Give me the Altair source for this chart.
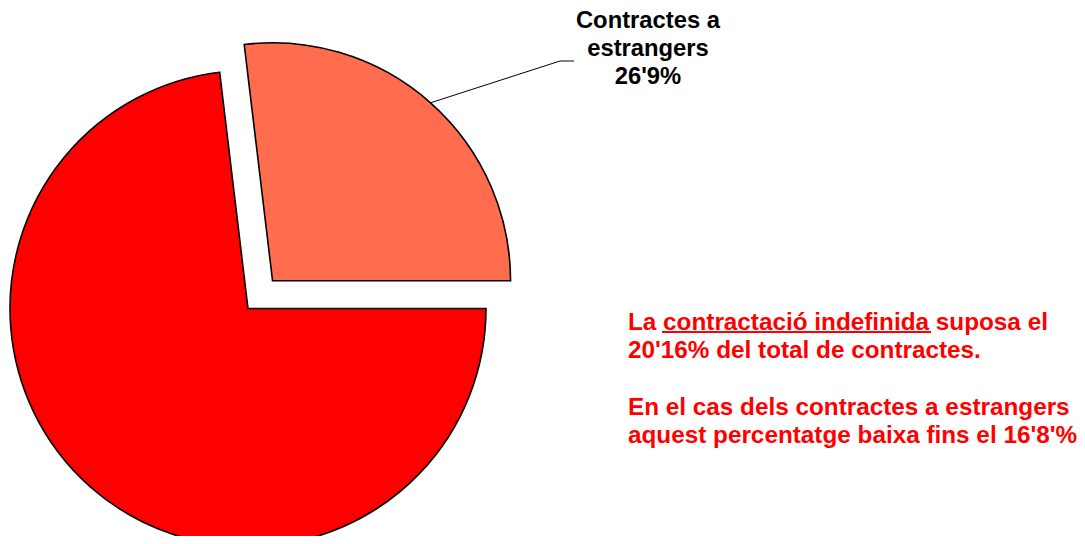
import math
import altair as alt
import pandas as pd

# ---- data ----
categories = ["Contractes a estrangers", "Resta de contractes"]
shares = [26.9, 73.1]
slice_colors = ["#FF6C4E", "#FF0000"]
label_lines = ["Contractes a", "estrangers", "26'9%"]
note_block_1 = ["La contractació indefinida suposa el", "20'16% del total de contractes."]
note_block_2 = ["En el cas dels contractes a estrangers", "aquest percentatge baixa fins el 16'8'%"]

# ---- layout / style ----
W, H = 1069, 528
CX, CY = 240, 300.5
R = 238
EXPLODE = [37, 0]
FONT = "Liberation Sans"
NOTE_SIZE = 24.3

total = sum(shares)
start = math.pi / 2 - shares[0] / total * 2 * math.pi
rows = []
for cat, s, ex in zip(categories, shares, EXPLODE):
    a0 = start
    a1 = start + s / total * 2 * math.pi
    mid = (a0 + a1) / 2
    rows.append(dict(cat=cat, share=s, t0=a0, t1=a1,
                     cx=CX + ex * math.sin(mid), cy=CY - ex * math.cos(mid), mid=mid))
    start = a1
pie_df = pd.DataFrame(rows)

pie = alt.Chart(pie_df).mark_arc(radius=R, stroke="black", strokeWidth=1.6).encode(
    theta=alt.Theta("t0:Q", scale=None),
    theta2="t1:Q",
    x=alt.X("cx:Q", scale=None, axis=None),
    y=alt.Y("cy:Q", scale=None, axis=None),
    color=alt.Color("cat:N", scale=alt.Scale(domain=categories, range=slice_colors), legend=None),
)

# leader line from small slice edge to label
r0 = rows[0]
ex0 = r0["cx"] + R * math.sin(r0["mid"])
ey0 = r0["cy"] - R * math.cos(r0["mid"])
leader_df = pd.DataFrame({"x": [ex0, 552, 566], "y": [ey0, 53, 53], "o": [0, 1, 2]})
leader = alt.Chart(leader_df).mark_line(color="black", strokeWidth=1).encode(
    x=alt.X("x:Q", scale=None, axis=None),
    y=alt.Y("y:Q", scale=None, axis=None),
    order="o:Q",
)

label = alt.Chart(pd.DataFrame({"t": ["\n".join(label_lines)]})).mark_text(
    align="center", baseline="alphabetic", fontSize=23.8, fontWeight="bold",
    font=FONT, lineHeight=28, lineBreak="\n", color="black",
).encode(x=alt.value(640), y=alt.value(19.5), text="t:N")

note1 = alt.Chart(pd.DataFrame({"t": ["\n".join(note_block_1)]})).mark_text(
    align="left", baseline="alphabetic", fontSize=NOTE_SIZE, fontWeight="bold",
    font=FONT, lineHeight=28.3, lineBreak="\n", color="#FF0000",
).encode(x=alt.value(620), y=alt.value(321.5), text="t:N")

note2 = alt.Chart(pd.DataFrame({"t": ["\n".join(note_block_2)]})).mark_text(
    align="left", baseline="alphabetic", fontSize=NOTE_SIZE, fontWeight="bold",
    font=FONT, lineHeight=28.3, lineBreak="\n", color="#FF0000",
).encode(x=alt.value(620), y=alt.value(407), text="t:N")

underline = alt.Chart(pd.DataFrame({"a": [0]})).mark_rule(color="#FF0000", strokeWidth=2).encode(
    x=alt.value(654), x2=alt.value(923), y=alt.value(324)
)

chart = alt.layer(pie, leader, label, note1, note2, underline).properties(
    width=W, height=H, autosize="none", padding=0
).configure_view(stroke=None)

chart.save("out.html", embed_options={"renderer": "svg", "actions": False})
